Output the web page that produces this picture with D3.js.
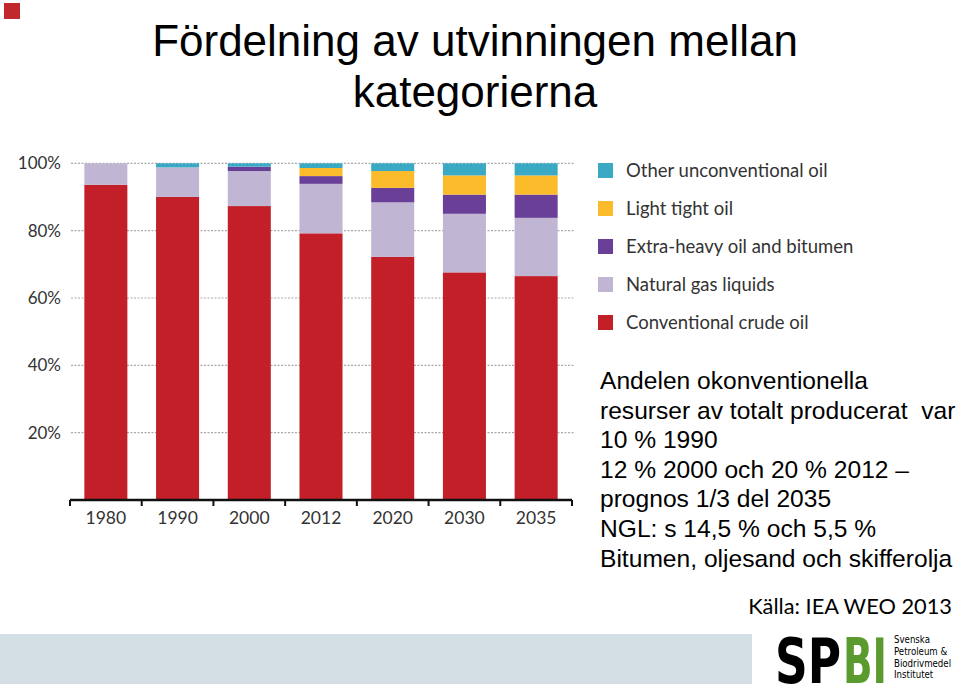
<!DOCTYPE html>
<html><head><meta charset="utf-8">
<script src="https://cdn.jsdelivr.net/npm/d3@7"></script>
<style>body{margin:0;background:#fff}svg{display:block}</style>
</head><body>
<svg id="c" width="960" height="686"></svg>
<script>
const categories = ["1980","1990","2000","2012","2020","2030","2035"];
const seriesNames = ["Conventional crude oil","Natural gas liquids","Extra-heavy oil and bitumen","Light tight oil","Other unconventional oil"];
const crude  = [93.6, 90.0, 87.3, 79.2, 72.2, 67.6, 66.5];
const ngl    = [6.4,  8.8,  10.4, 14.7, 16.2, 17.4, 17.3];
const heavy  = [0,    0,    1.3,  2.3,  4.3,  5.7,  6.9];
const tight  = [0,    0,    0,    2.4,  5.0,  5.7,  5.7];
const other  = [0,    1.2,  1.0,  1.4,  2.3,  3.6,  3.6];
const yTicks = [20, 40, 60, 80, 100];
const colors = ["#c21f28","#c0b6d3","#6a3f98","#fbbb2a","#3aa9c4"];
const notes = ["Andelen okonventionella","resurser av totalt producerat  var","10 % 1990","12 % 2000 och 20 % 2012 –","prognos 1/3 del 2035","NGL: s 14,5 % och 5,5 %","Bitumen, oljesand och skifferolja"];

const svg = d3.select("#c");
const cal = "Lato, 'Open Sans', sans-serif";
const ari = "'Liberation Sans', Arial, sans-serif";

svg.append("rect").attr("x",4).attr("y",3).attr("width",16).attr("height",16).attr("fill","#c0282d");

svg.append("text").attr("x",475).attr("y",56).attr("text-anchor","middle")
  .attr("font-family",ari).attr("font-size",44).attr("fill","#000").text("Fördelning av utvinningen mellan");
svg.append("text").attr("x",475).attr("y",107).attr("text-anchor","middle")
  .attr("font-family",ari).attr("font-size",44).attr("fill","#000").text("kategorierna");

const x = d3.scaleBand().domain(categories).range([70,572]).paddingInner(0.4).paddingOuter(0.2);
const y = d3.scaleLinear().domain([0,100]).range([500,163.3]);

// gridlines
svg.append("g").selectAll("line").data(yTicks).join("line")
  .attr("x1",71).attr("x2",574).attr("y1",d=>y(d)).attr("y2",d=>y(d))
  .attr("stroke","#aaa").attr("stroke-width",1.2).attr("stroke-dasharray","2,1.5");

const data = categories.map((c,i)=>({cat:c, s0:crude[i], s1:ngl[i], s2:heavy[i], s3:tight[i], s4:other[i]}));
const stack = d3.stack().keys(["s0","s1","s2","s3","s4"])(data);
svg.append("g").selectAll("g").data(stack).join("g").attr("fill",(d,i)=>colors[i])
  .selectAll("rect").data(d=>d).join("rect")
  .attr("x",d=>x(d.data.cat)).attr("width",x.bandwidth())
  .attr("y",d=>y(d[1])).attr("height",d=>Math.max(0,y(d[0])-y(d[1])));

// y labels
svg.append("g").selectAll("text").data(yTicks).join("text")
  .attr("x",61).attr("y",d=>y(d)+6).attr("text-anchor","end")
  .attr("font-family",cal).attr("font-size",17).attr("fill","#333").text(d=>d+"%");

// x axis
const xa = svg.append("g").attr("transform","translate(0,500)");
xa.append("line").attr("x1",70).attr("x2",572).attr("stroke","#111").attr("stroke-width",2.5);
xa.selectAll("line.t").data(d3.range(categories.length+1)).join("line").attr("class","t")
  .attr("x1",i=>70+i*(502/7)).attr("x2",i=>70+i*(502/7)).attr("y1",0).attr("y2",6)
  .attr("stroke","#111").attr("stroke-width",2);
xa.selectAll("text").data(categories).join("text")
  .attr("x",d=>x(d)+x.bandwidth()/2).attr("y",24).attr("text-anchor","middle")
  .attr("font-family",cal).attr("font-size",17.5).attr("fill","#333").text(d=>d);

// legend
const leg = svg.append("g").selectAll("g").data(d3.range(5).reverse()).join("g")
  .attr("transform",(d,i)=>`translate(598,${163+i*38})`);
leg.append("rect").attr("width",15).attr("height",15).attr("fill",d=>colors[d]);
leg.append("text").attr("x",28).attr("y",14).attr("font-family",cal).attr("font-size",18.5)
  .attr("fill","#333").text(d=>seriesNames[d]);

// notes
svg.append("g").selectAll("text").data(notes).join("text")
  .attr("x",600).attr("y",(d,i)=>389+i*29.6).attr("font-family",ari).attr("font-size",24.6)
  .attr("fill","#000").style("white-space","pre").text(d=>d);

svg.append("text").attr("x",952).attr("y",614).attr("text-anchor","end")
  .attr("font-family",cal).attr("font-size",21.8).attr("fill","#000").text("Källa: IEA WEO 2013");

// footer band
svg.append("rect").attr("x",0).attr("y",634).attr("width",752).attr("height",50).attr("fill","#d4dfe5");

// logo
const lg = svg.append("g");
const logoFont = "'DejaVu Sans Condensed','Liberation Sans Narrow',sans-serif";
lg.append("text").attr("transform","translate(775,683) scale(1,1.75)").attr("font-family",logoFont)
  .attr("font-weight","bold").attr("font-size",36).attr("textLength",66).attr("lengthAdjust","spacingAndGlyphs")
  .attr("fill","#000").text("SP");
lg.append("text").attr("transform","translate(843,683) scale(1,1.75)").attr("font-family",logoFont)
  .attr("font-weight","bold").attr("font-size",36).attr("textLength",44).attr("lengthAdjust","spacingAndGlyphs")
  .attr("fill","#5a9a2e").text("BI");
lg.selectAll("text.s").data(["Svenska","Petroleum &","Biodrivmedel","Institutet"]).join("text").attr("class","s")
  .attr("x",894).attr("y",(d,i)=>643+i*11.8).attr("font-family","'Liberation Sans Narrow','DejaVu Sans Condensed',sans-serif")
  .attr("font-size",9.6).attr("fill","#000").text(d=>d);
</script>
</body></html>
